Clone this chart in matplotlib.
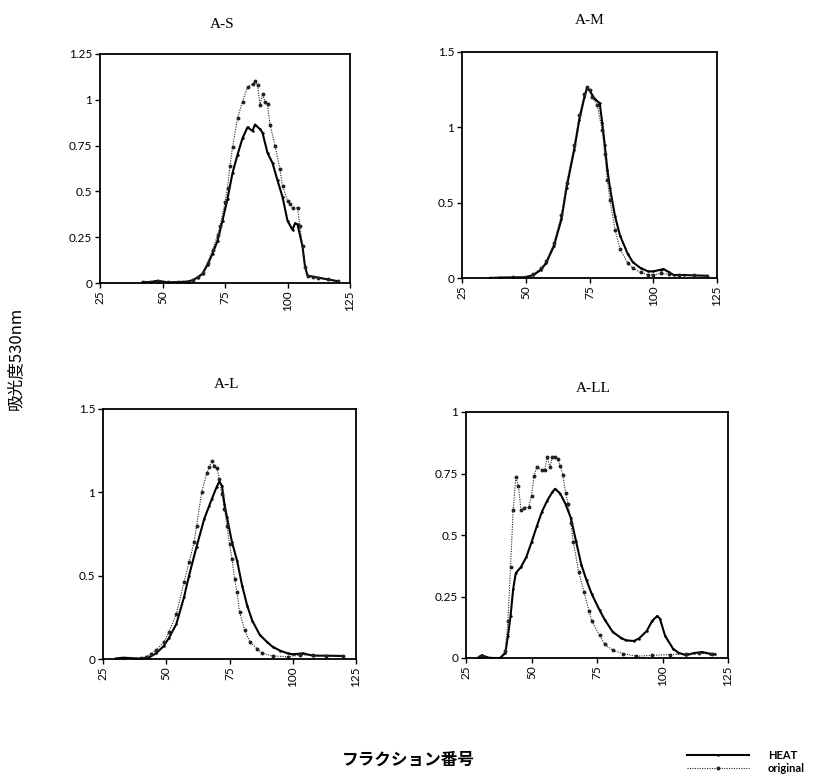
import matplotlib
matplotlib.use("Agg")
import matplotlib.pyplot as plt

# ---------------- data ----------------
xticks = [25, 50, 75, 100, 125]
xtick_labels = ["25", "50", "75", "100", "125"]

panel_titles = ["A-S", "A-M", "A-L", "A-LL"]

# A-S
as_heat_x = [42, 45, 48, 52, 56, 60, 62, 64, 66, 68, 70, 72, 74, 76, 78, 80, 82, 84, 86, 87,
             89, 90, 92, 94, 96, 98, 100, 102, 103, 104, 106, 107, 108, 110, 112, 116, 120]
as_heat_y = [0.005, 0.005, 0.012, 0.004, 0.005, 0.008, 0.015, 0.03, 0.05, 0.1,
             0.16, 0.23, 0.34, 0.46, 0.6, 0.7, 0.79, 0.85, 0.83, 0.865,
             0.84, 0.82, 0.71, 0.655, 0.56, 0.47, 0.34, 0.29, 0.325, 0.32,
             0.2, 0.09, 0.04, 0.035, 0.03, 0.02, 0.01]
as_orig_x = [42, 45, 48, 52, 56, 60, 62, 64, 66, 68, 70, 72, 73, 75, 76, 77, 78, 80, 82, 84,
             86, 87, 88, 89, 90, 91, 92, 93, 95, 97, 98, 100, 101, 102, 104, 105, 106, 107, 108, 110,
             112, 116, 120]
as_orig_y = [0.005, 0.006, 0.012, 0.005, 0.005, 0.008, 0.016, 0.032, 0.055, 0.11,
             0.18, 0.26, 0.31, 0.44, 0.52, 0.64, 0.74, 0.9, 0.99, 1.07,
             1.085, 1.10, 1.08, 0.97, 1.03, 0.99, 0.975, 0.865, 0.75, 0.62,
             0.53, 0.45, 0.43, 0.41, 0.41, 0.31, 0.2, 0.09, 0.04, 0.035,
             0.03, 0.02, 0.01]
as_yticks = [0, 0.25, 0.5, 0.75, 1, 1.25]
as_ytick_labels = ["0", "0.25", "0.5", "0.75", "1", "1.25"]

# A-M
am_heat_x = [36, 40, 45, 50, 53, 56, 58, 61, 64, 66, 69, 71, 73, 74, 75, 77, 79, 80, 81, 82,
             83, 85, 87, 90, 92, 95, 98, 100, 103, 104, 106, 108, 112, 116, 121]
am_heat_y = [0.0, 0.003, 0.004, 0.005, 0.02, 0.055, 0.1, 0.21, 0.39, 0.6,
             0.85, 1.05, 1.2, 1.26, 1.245, 1.19, 1.16, 1.03, 0.88, 0.72,
             0.6, 0.41, 0.28, 0.16, 0.105, 0.066, 0.044, 0.044, 0.055, 0.06,
             0.04, 0.02, 0.02, 0.017, 0.015]
am_orig_x = [36, 40, 45, 50, 53, 56, 58, 61, 64, 66, 69, 71, 73, 74, 75, 76, 78, 80, 81, 82,
             83, 85, 87, 90, 92, 95, 98, 100, 103, 106, 110, 116, 121]
am_orig_y = [0.0, 0.003, 0.004, 0.006, 0.025, 0.065, 0.11, 0.23, 0.42, 0.63,
             0.88, 1.08, 1.22, 1.27, 1.25, 1.2, 1.15, 0.98, 0.82, 0.65,
             0.52, 0.32, 0.19, 0.1, 0.066, 0.037, 0.022, 0.02, 0.03, 0.025,
             0.02, 0.017, 0.015]
am_yticks = [0, 0.5, 1, 1.5]
am_ytick_labels = ["0", "0.5", "1", "1.5"]

# A-L
al_heat_x = [30, 33, 36, 40, 43, 46, 49, 51, 54, 57, 59, 62, 65, 67, 68, 70, 71, 72, 73, 74,
             76, 78, 80, 82, 84, 87, 90, 92, 95, 98, 100, 104, 108, 113, 120]
al_heat_y = [0.003, 0.008, 0.005, 0.002, 0.008, 0.034, 0.078, 0.125, 0.21, 0.37,
             0.5, 0.675, 0.84, 0.92, 0.96, 1.035, 1.065, 1.04, 0.93, 0.85,
             0.7, 0.59, 0.44, 0.32, 0.23, 0.144, 0.1, 0.074, 0.05, 0.034,
             0.028, 0.034, 0.02, 0.02, 0.018]
al_orig_x = [38, 40, 42, 44, 46, 49, 51, 54, 57, 59, 61, 62, 64, 66, 67, 68, 69, 70, 71, 72,
             73, 74, 75, 76, 77, 78, 79, 81, 83, 86, 88, 92, 98, 103, 108, 113, 120]
al_orig_y = [0.002, 0.004, 0.014, 0.03, 0.054, 0.1, 0.16, 0.27, 0.46, 0.58,
             0.7, 0.8, 1.0, 1.115, 1.15, 1.186, 1.16, 1.145, 1.08, 0.99,
             0.9, 0.8, 0.69, 0.6, 0.48, 0.4, 0.28, 0.174, 0.104, 0.06,
             0.034, 0.018, 0.014, 0.024, 0.022, 0.02, 0.018]
al_yticks = [0, 0.5, 1, 1.5]
al_ytick_labels = ["0", "0.5", "1", "1.5"]

# A-LL
all_heat_x = [30, 31, 34, 38, 40, 41, 42, 43, 44, 46, 48, 50, 52, 54, 56, 58, 59, 61, 63, 65,
              67, 69, 71, 73, 76, 78, 81, 84, 86, 89, 91, 94, 96, 98, 99, 101, 104, 106, 109, 112,
              115, 118, 120]
all_heat_y = [0.004, 0.011, 0.0, 0.0, 0.02, 0.09, 0.17, 0.28, 0.345, 0.37,
              0.41, 0.47, 0.535, 0.595, 0.64, 0.675, 0.688, 0.668, 0.625, 0.57,
              0.475, 0.38, 0.316, 0.26, 0.194, 0.155, 0.106, 0.083, 0.072, 0.069,
              0.079, 0.11, 0.15, 0.171, 0.16, 0.09, 0.038, 0.022, 0.011, 0.02,
              0.024, 0.018, 0.015]
all_orig_x = [30, 31, 34, 38, 40, 41, 42, 43, 44, 45, 46, 47, 49, 50, 51, 52, 54, 55, 56, 57,
              58, 59, 60, 61, 62, 63, 64, 65, 66, 68, 70, 72, 73, 76, 78, 81, 85, 90, 96, 103,
              109, 114, 119]
all_orig_y = [0.004, 0.01, 0.0, 0.0, 0.03, 0.15, 0.37, 0.6, 0.736, 0.7,
              0.6, 0.61, 0.614, 0.66, 0.74, 0.776, 0.763, 0.763, 0.817, 0.776,
              0.817, 0.817, 0.81, 0.78, 0.742, 0.67, 0.627, 0.55, 0.47, 0.35,
              0.27, 0.19, 0.15, 0.092, 0.055, 0.031, 0.018, 0.007, 0.011, 0.014,
              0.018, 0.02, 0.015]
all_yticks = [0, 0.25, 0.5, 0.75, 1]
all_ytick_labels = ["0", "0.25", "0.5", "0.75", "1"]

series_labels = ["HEAT", "original"]
xlabel_text = "フラクション番号"
ylabel_text = "吸光度530nm"

# ---------------- figure ----------------
W, H = 817, 776
fig = plt.figure(figsize=(W / 100, H / 100), dpi=100)

def box(x0, y0, x1, y1):
    return [x0 / W, 1 - y1 / H, (x1 - x0) / W, (y1 - y0) / H]

panels = [
    dict(rect=box(100, 54, 350, 283), title_xy=(222, 24), hx=as_heat_x, hy=as_heat_y,
         ox=as_orig_x, oy=as_orig_y, yt=as_yticks, ytl=as_ytick_labels, title=panel_titles[0]),
    dict(rect=box(462, 52, 717, 278), title_xy=(590, 20), hx=am_heat_x, hy=am_heat_y,
         ox=am_orig_x, oy=am_orig_y, yt=am_yticks, ytl=am_ytick_labels, title=panel_titles[1]),
    dict(rect=box(103, 409, 356, 659), title_xy=(227, 384), hx=al_heat_x, hy=al_heat_y,
         ox=al_orig_x, oy=al_orig_y, yt=al_yticks, ytl=al_ytick_labels, title=panel_titles[2]),
    dict(rect=box(466, 412, 728, 658), title_xy=(593, 388), hx=all_heat_x, hy=all_heat_y,
         ox=all_orig_x, oy=all_orig_y, yt=all_yticks, ytl=all_ytick_labels, title=panel_titles[3]),
]

tick_font = dict(family=["Lato", "DejaVu Sans"], size=8.5)
handles = None
for p in panels:
    ax = fig.add_axes(p["rect"])
    l1, = ax.plot(p["hx"], p["hy"], color="black", lw=1.5, ls="-",
                  marker="o", ms=1.8, mew=0, label=series_labels[0])
    l2, = ax.plot(p["ox"], p["oy"], color="#222222", lw=0.8, ls=(0, (1, 1.2)),
                  marker="o", ms=2.8, mew=0, label=series_labels[1])
    if handles is None:
        handles = [l1, l2]
    ax.set_xlim(xticks[0], xticks[-1])
    ax.set_ylim(p["yt"][0], p["yt"][-1])
    ax.set_xticks(xticks)
    ax.set_xticklabels(xtick_labels, rotation=90, **tick_font)
    ax.set_yticks(p["yt"])
    ax.set_yticklabels(p["ytl"], **tick_font)
    ax.tick_params(axis="both", direction="out", length=3.5, width=1.0, pad=2, color="black")
    for s in ax.spines.values():
        s.set_linewidth(1.3)
        s.set_color("black")
    fig.text(p["title_xy"][0] / W, 1 - p["title_xy"][1] / H, p["title"],
             ha="center", va="center", fontsize=11,
             family=["Liberation Serif", "DejaVu Serif"])

fig.text(408 / W, 1 - 760 / H, xlabel_text, ha="center", va="center", fontsize=12,
         weight="bold", family=["Noto Sans CJK JP", "DejaVu Sans"])
fig.text(15 / W, 1 - 358 / H, ylabel_text, ha="center", va="center", fontsize=12,
         rotation=90, family=["Noto Sans CJK JP", "DejaVu Sans"])

leg = fig.legend(handles=handles, labels=series_labels, loc="center left",
                 bbox_to_anchor=(681 / W, 1 - 762 / H), frameon=False,
                 handlelength=5.6, handletextpad=1.7, labelspacing=0.2,
                 numpoints=1, borderpad=0,
                 prop=dict(family=["Lato", "DejaVu Sans"], weight="bold", size=8))

fig.savefig("out.png", dpi=100, facecolor="white")
